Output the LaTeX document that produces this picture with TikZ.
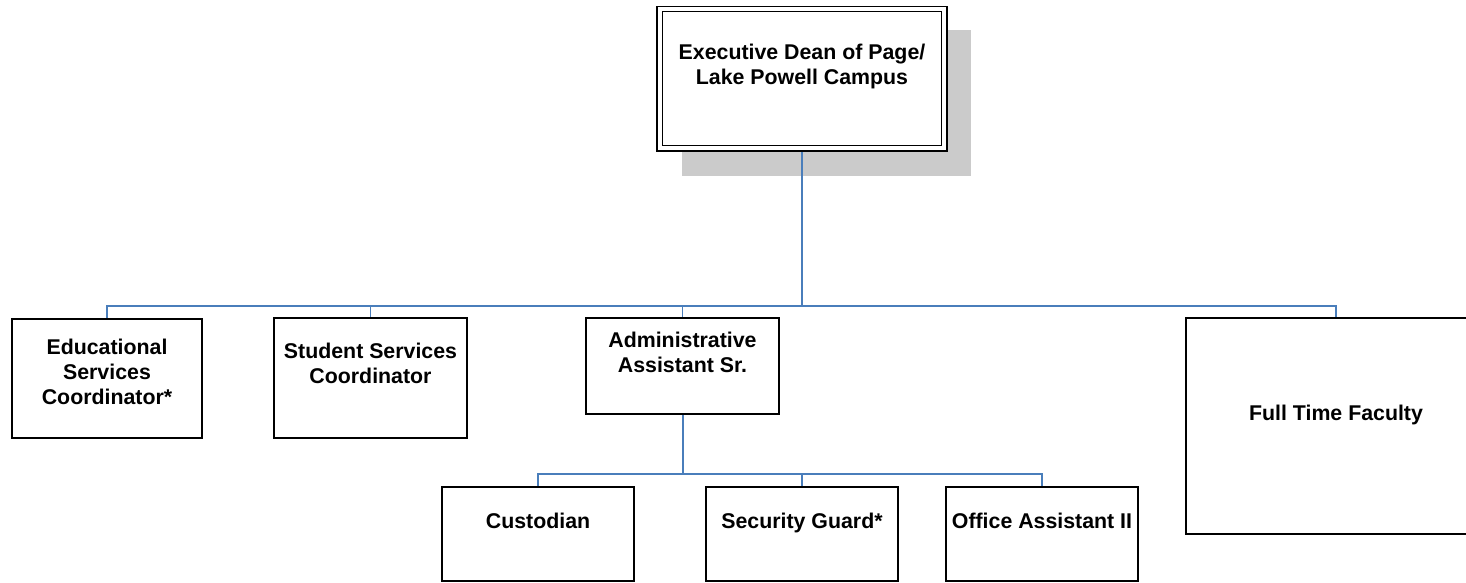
\documentclass[tikz,border=0pt]{standalone}
\usepackage{fontspec}
\setmainfont{Liberation Sans}
\usetikzlibrary{backgrounds}
\definecolor{linkblue}{HTML}{4A7EBB}
\definecolor{shadowgray}{HTML}{CBCBCB}
\begin{document}
\begin{tikzpicture}[x=0.75pt,y=-0.75pt,
  box/.style={draw=black, line width=1.1pt, fill=white, rectangle, inner sep=0pt},
  deanbox/.style={draw=black, double=white, double distance=3pt, line width=1.1pt, fill=white, rectangle, inner sep=0pt},
  txt/.style={font=\fontsize{16}{18.6}\selectfont\bfseries, align=center, inner sep=0pt, anchor=north},
  trunk/.style={draw=linkblue, line width=1.5pt},
  branch/.style={draw=linkblue, line width=0.8pt}]
\useasboundingbox (0,0) rectangle (1466,582);
\clip (0,0) rectangle (1466,582);

% boxes
\node[deanbox, minimum width=213.4pt, minimum height=104.6pt] (dean) at (802,78.75) {};
\node[box, minimum width=142.5pt, minimum height=89.25pt] (edu) at (107,378.5) {};
\node[box, minimum width=144.75pt, minimum height=90pt] (stu) at (370.5,378) {};
\node[box, minimum width=144.75pt, minimum height=72pt] (adm) at (682.5,366) {};
\node[box, minimum width=225pt, minimum height=162pt] (ftf) at (1336,426) {};
\node[box, minimum width=144pt, minimum height=70.5pt] (cus) at (538,534) {};
\node[box, minimum width=144pt, minimum height=70.5pt] (sec) at (802,534) {};
\node[box, minimum width=144pt, minimum height=70.5pt] (off) at (1042,534) {};

% texts
\node[txt] (deantxt) at (802,43.7) {Executive Dean of Page/\\Lake Powell Campus};
\node[txt] (edutxt) at (107,338.7) {Educational\\Services\\Coordinator*};
\node[txt] (stutxt) at (370.5,342.7) {Student Services\\Coordinator};
\node[txt] (admtxt) at (682.5,331.7) {Administrative\\Assistant Sr.};
\node[txt] (ftftxt) at (1336,404.7) {Full Time Faculty};
\node[txt] (custxt) at (538,512.7) {Custodian};
\node[txt] (sectxt) at (802,512.7) {Security Guard*};
\node[txt] (offtxt) at (1042,512.7) {Office Assistant II};

\coordinate (bus) at (802,306);
\coordinate (bus2) at (682.5,474);

\begin{pgfonlayer}{background}
  \fill[shadowgray] (682,30) rectangle (971,176);
  \draw[trunk] (dean.south) -- (bus);
  \draw[branch] (edu.north) |- (bus);
  \draw[branch] (stu.north) |- (bus);
  \draw[branch] (adm.north) |- (bus);
  \draw[branch] (ftf.north) |- (bus);
  \draw[trunk] (adm.south) -- (bus2);
  \draw[branch] (cus.north) |- (bus2);
  \draw[branch] (sec.north) |- (bus2);
  \draw[branch] (off.north) |- (bus2);
\end{pgfonlayer}
\end{tikzpicture}
\end{document}
